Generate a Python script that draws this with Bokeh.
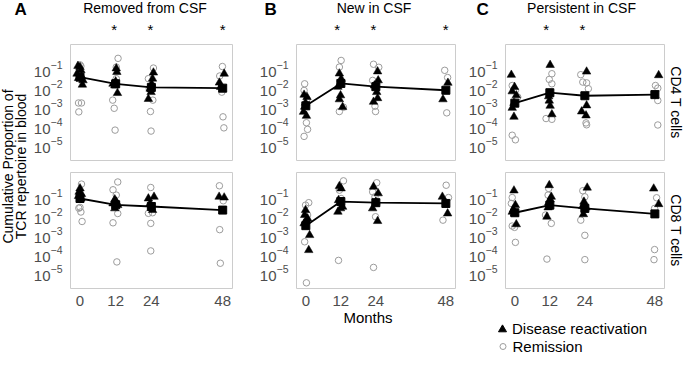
import math
from bokeh.plotting import figure
from bokeh.models import Range1d, FixedTicker, LogTickFormatter, Label, Legend, LegendItem
from bokeh.layouts import row, column
from bokeh.embed import file_html
from bokeh.resources import INLINE

# ---------------- data (y stored as log10) ----------------
months = [0, 12, 24, 48]
x_ticks = [0, 12, 24, 48]
y_ticks = [1e-5, 1e-4, 1e-3, 1e-2, 1e-1]
panel_letters = ["A", "B", "C"]
panel_titles = ["Removed from CSF", "New in CSF", "Persistent in CSF"]
row_labels = ["CD4 T cells", "CD8 T cells"]
star_months_A = [12, 24, 48]
star_months_B = [12, 24, 48]
star_months_C = [12, 24]
x_label = "Months"
y_label_lines = ["Cumulative Proportion of", "TCR repertoire in blood"]
legend_labels = ["Disease reactivation", "Remission"]

# Panel A, CD4
A4_rem_x = [0.0, 0.3, -0.5, 0.5, -0.4, 0.7, 12.8, 12.2, 11.0, 11.5, 11.8, 12.2, 24.7, 23.0, 24.5, 23.7, 23.9, 23.3, 47.9, 47.0, 47.7, 48.1, 48.4]
A4_rem_y = [-0.79, -0.86, -2.80, -2.80, -3.27, -1.53, -0.45, -0.91, -2.65, -3.08, -4.23, -1.52, -0.96, -1.52, -2.65, -3.25, -4.28, -2.05, -0.88, -1.38, -2.23, -3.53, -4.11]
A4_react_x = [-0.7, 0.0, 0.3, -1.0, 0.5, 1.0, 0.8, -0.5, 12.2, 12.4, 12.0, 11.1, 11.7, 12.6, 24.7, 24.4, 24.1, 23.6, 23.0, 23.9, 48.5, 46.9, 47.3]
A4_react_y = [-0.85, -0.91, -1.08, -1.26, -1.39, -1.61, -1.84, -1.49, -0.98, -1.17, -1.67, -1.79, -1.88, -2.28, -1.20, -1.52, -1.79, -2.05, -2.59, -2.23, -1.26, -1.73, -1.96]
A4_median = [-1.44, -1.79, -1.98, -2.02]

# Panel A, CD8
A8_rem_x = [0.5, -0.4, 0.0, 0.3, 0.7, 12.7, 11.1, 12.2, 12.7, 11.1, 12.4, 23.8, 23.0, 24.4, 23.8, 23.8, 46.9, 48.2, 47.0, 47.2]
A8_rem_y = [-0.33, -1.60, -1.56, -1.80, -2.30, -0.22, -0.63, -0.91, -1.88, -2.37, -4.43, -0.51, -1.87, -1.84, -2.40, -3.85, -0.42, -1.21, -2.73, -4.50]
A8_react_x = [0.0, -0.3, 0.5, 0.3, -0.5, 11.7, 12.2, 11.1, 12.7, 11.7, 23.0, 24.9, 23.6, 24.4, 46.8, 48.5]
A8_react_y = [-0.56, -0.74, -0.86, -1.09, -0.96, -1.14, -1.26, -1.35, -1.44, -1.61, -1.09, -1.00, -1.35, -1.70, -1.00, -1.04]
A8_median = [-1.09, -1.42, -1.51, -1.70]

# Panel B, CD4
B4_rem_x = [-0.4, -0.6, 0.4, 0.2, 0.6, -0.6, 12.1, 11.5, 11.5, 12.9, 23.2, 25.0, 22.9, 23.7, 23.9, 47.6, 48.6, 48.3]
B4_rem_y = [-1.79, -2.14, -2.60, -3.84, -4.19, -4.56, -0.56, -0.91, -3.25, -3.02, -0.76, -0.92, -1.61, -2.97, -3.25, -1.08, -1.46, -3.32]
B4_react_x = [-0.6, 0.4, -0.1, -0.8, 0.2, -0.4, 11.5, 12.1, 11.0, 11.9, 12.6, 11.5, 24.6, 24.8, 23.5, 24.3, 24.6, 23.2, 48.7, 47.0]
B4_react_y = [-2.37, -2.49, -2.79, -3.27, -3.48, -3.00, -1.25, -1.53, -1.95, -2.40, -3.02, -2.61, -1.14, -1.61, -1.88, -2.23, -2.55, -2.74, -1.74, -2.61]
B4_median = [-2.95, -1.77, -1.94, -2.13]

# Panel B, CD8
B8_rem_x = [-0.1, 1.0, 0.6, -0.4, 0.2, 12.9, 11.5, 12.1, 11.2, 24.3, 22.9, 23.7, 23.9, 23.2, 48.1, 48.9, 47.0]
B8_rem_y = [-1.44, -1.31, -1.96, -3.37, -5.53, -0.16, -0.65, -1.09, -4.35, -0.26, -0.74, -1.00, -2.05, -4.72, -0.39, -1.04, -2.23]
B8_react_x = [-0.1, -0.4, 0.2, -0.6, 0.6, 1.3, 1.0, 11.5, 12.1, 11.2, 11.9, 11.0, 12.6, 23.2, 24.8, 24.0, 22.9, 24.6, 46.8, 48.6]
B8_react_y = [-1.70, -1.96, -2.23, -2.40, -2.14, -3.02, -3.81, -0.44, -0.56, -1.18, -1.61, -1.79, -1.53, -0.47, -0.82, -1.26, -1.61, -2.28, -1.00, -1.88]
B8_median = [-2.52, -1.25, -1.31, -1.35]

# Panel C, CD4
C4_rem_x = [-0.9, 0.2, 1.0, -0.9, 0.2, 12.7, 11.8, 12.7, 10.7, 12.7, 22.6, 24.6, 23.3, 25.2, 24.4, 24.6, 48.2, 49.0, 49.0, 49.0]
C4_rem_y = [-1.88, -2.14, -2.49, -4.50, -4.74, -1.26, -1.56, -1.79, -3.62, -3.66, -1.31, -1.74, -1.70, -2.05, -3.85, -3.95, -1.88, -2.02, -2.67, -3.96]
C4_react_x = [-1.2, -0.1, -0.9, 0.5, -0.3, -0.9, -0.3, 12.1, 11.6, 11.8, 12.1, 12.7, 24.6, 24.6, 22.9, 24.4, 49.3]
C4_react_y = [-1.32, -1.96, -2.19, -2.40, -2.80, -3.06, -3.53, -0.80, -2.45, -2.68, -2.95, -3.40, -1.15, -2.93, -3.25, -3.46, -1.34]
C4_median = [-2.81, -2.26, -2.42, -2.36]

# Panel C, CD8
C8_rem_x = [-0.9, -1.2, -0.9, -0.1, 0.2, 11.6, 11.4, 10.5, 12.5, 11.0, 23.3, 24.0, 22.6, 24.0, 24.0, 48.6, 47.9, 47.9, 47.7]
C8_rem_y = [-1.04, -1.35, -2.54, -2.61, -3.40, -0.56, -0.91, -1.96, -2.40, -4.28, -0.68, -1.00, -2.23, -3.03, -4.31, -1.05, -1.61, -3.78, -4.31]
C8_react_x = [-0.3, 0.2, -0.5, -0.1, 0.5, -0.9, 11.8, 12.5, 11.6, 11.4, 11.0, 12.1, 24.8, 23.7, 24.4, 23.5, 23.3, 47.6, 49.3]
C8_react_y = [-0.67, -1.44, -1.67, -1.88, -2.45, -1.79, -0.39, -1.00, -1.31, -1.56, -2.05, -1.14, -0.52, -1.26, -1.56, -1.92, -1.49, -0.57, -1.39]
C8_median = [-1.84, -1.44, -1.61, -1.90]

# ---------------- styling / layout ----------------
FONT = "Liberation Sans"
TICK_COLOR = "#4D4D4D"
REM_COLOR = "#9C9C9C"
X_RANGE = (-3.2, 51.3)
Y_LOG_RANGE = (-5.83, 0.28)
FRAME_W = 164
FRAME_H = 116

LEFT_W = 30
col_specs = [(226, 38, 24), (209, 35, 10), (201, 35, 2)]   # fig width, left border, right border
STRIP_W = 18
HEAD_H = 44
TOP_H, TOP_T, TOP_B = 122, 0, 6
BOT_H, BOT_T, BOT_B = 142, 6, 20
FOOT_H = 47

panels = {
    (0, 0): (A4_rem_x, A4_rem_y, A4_react_x, A4_react_y, A4_median),
    (0, 1): (A8_rem_x, A8_rem_y, A8_react_x, A8_react_y, A8_median),
    (1, 0): (B4_rem_x, B4_rem_y, B4_react_x, B4_react_y, B4_median),
    (1, 1): (B8_rem_x, B8_rem_y, B8_react_x, B8_react_y, B8_median),
    (2, 0): (C4_rem_x, C4_rem_y, C4_react_x, C4_react_y, C4_median),
    (2, 1): (C8_rem_x, C8_rem_y, C8_react_x, C8_react_y, C8_median),
}
stars = [star_months_A, star_months_B, star_months_C]
letter_x = [None, 8, 11]
title_x = [114.5, 117.5, 116]


def pow10(vals):
    return [10 ** v for v in vals]


def blank(width, height, x_range=(0, 1)):
    f = figure(width=width, height=height, output_backend="svg", toolbar_location=None,
               x_axis_location=None, y_axis_location=None, min_border=0,
               x_range=Range1d(*x_range), y_range=Range1d(0, 1))
    f.outline_line_color = None
    f.grid.visible = False
    f.background_fill_color = "white"
    f.border_fill_color = "white"
    return f


def txt(text, x, y, size="15px", align="center", baseline="middle", angle=0.0,
        x_units="canvas", bold=False):
    return Label(x=x, y=y, x_units=x_units, y_units="canvas", text=text, angle=angle,
                 text_align=align, text_baseline=baseline, text_font=FONT,
                 text_font_size=size, text_color="black",
                 text_font_style="bold" if bold else "normal")


def make_panel(ci, ri):
    w, bl, br = col_specs[ci]
    top = ri == 0
    h, bt, bb = (TOP_H, TOP_T, TOP_B) if top else (BOT_H, BOT_T, BOT_B)
    p = figure(width=w, height=h, output_backend="svg", toolbar_location=None,
               y_axis_type="log", x_axis_location=None if top else "below",
               x_range=Range1d(*X_RANGE),
               y_range=Range1d(10 ** Y_LOG_RANGE[0], 10 ** Y_LOG_RANGE[1]),
               min_border_left=bl, min_border_right=br, min_border_top=bt, min_border_bottom=bb)
    p.grid.visible = False
    p.outline_line_color = "#CCCCCC"
    p.outline_line_width = 1
    p.background_fill_color = "white"
    p.border_fill_color = "white"

    ya = p.yaxis[0]
    ya.ticker = FixedTicker(ticks=y_ticks)
    ya.formatter = LogTickFormatter()
    ya.axis_line_color = None
    ya.major_tick_line_color = None
    ya.minor_tick_line_color = None
    ya.major_label_text_font = FONT
    ya.major_label_text_font_size = "15px"
    ya.major_label_text_color = TICK_COLOR
    ya.major_label_standoff = 2
    if not top:
        xa = p.xaxis[0]
        xa.ticker = FixedTicker(ticks=x_ticks)
        xa.axis_line_color = None
        xa.major_tick_line_color = None
        xa.minor_tick_line_color = None
        xa.major_label_text_font = FONT
        xa.major_label_text_font_size = "15px"
        xa.major_label_text_color = TICK_COLOR
        xa.major_label_standoff = 1

    rem_x, rem_y, react_x, react_y, med = panels[(ci, ri)]
    p.scatter(rem_x, pow10(rem_y), marker="circle", size=6.5, fill_color=None,
              line_color=REM_COLOR, line_width=1)
    p.scatter(react_x, pow10(react_y), marker="triangle", size=8.5, fill_color="black",
              line_color="black", line_width=0.5)
    p.line(months, pow10(med), line_color="black", line_width=1.8)
    p.scatter(months, pow10(med), marker="square", size=8, fill_color="black",
              line_color="black")
    return p


def make_header(ci):
    w, bl, br = col_specs[ci]
    hw = w + (STRIP_W if ci == 2 else 0)
    s = (X_RANGE[1] - X_RANGE[0]) / FRAME_W
    x0 = X_RANGE[0] - bl * s
    hd = blank(hw, HEAD_H, x_range=(x0, x0 + hw * s))
    hd.add_layout(txt(panel_titles[ci], title_x[ci], 7, size="14px"))
    if letter_x[ci] is not None:
        hd.add_layout(txt(panel_letters[ci], letter_x[ci], 9, size="17px", align="left", bold=True))
    for m in stars[ci]:
        hd.add_layout(txt("*", m, 28.5, x_units="data"))
    return hd


headers = [make_header(c) for c in range(3)]
tops = [make_panel(c, 0) for c in range(3)]
bots = [make_panel(c, 1) for c in range(3)]

# y label strip (left) with panel letter A
ylab = blank(LEFT_W, HEAD_H + TOP_H + BOT_H + FOOT_H)
for i, line in enumerate(y_label_lines):
    ylab.add_layout(txt(line, 7 + 13 * i, 166, size="14px", angle=math.pi / 2))
ylab.add_layout(txt(panel_letters[0], 14, 9, size="17px", align="left", bold=True))

# facet strip (right)
strip = blank(STRIP_W, TOP_H + BOT_H)
strip.add_layout(txt(row_labels[0], STRIP_W / 2, TOP_T + FRAME_H / 2, size="14px", angle=-math.pi / 2))
strip.add_layout(txt(row_labels[1], STRIP_W / 2, TOP_H + BOT_T + FRAME_H / 2, size="14px", angle=-math.pi / 2))

# footer: x label and legend
FOOT_W = sum(c[0] for c in col_specs) + STRIP_W
footer = blank(FOOT_W, FOOT_H)
footer.add_layout(txt(x_label, 337.5, 8.5))
nan = float("nan")
r_react = footer.scatter([nan], [nan], marker="triangle", size=8, fill_color="black", line_color="black")
r_rem = footer.scatter([nan], [nan], marker="circle", size=6, fill_color=None, line_color=REM_COLOR,
                       line_width=1)
leg_style = dict(orientation="vertical", label_height=20, padding=0, margin=0, spacing=0,
                 border_line_color=None, background_fill_alpha=0,
                 label_text_font=FONT, label_text_font_size="15px", label_text_color="black")
leg1 = Legend(items=[LegendItem(label=legend_labels[0], renderers=[r_react])],
              location=(462, 16.5), glyph_width=20, glyph_height=20, label_standoff=0, **leg_style)
leg2 = Legend(items=[LegendItem(label=legend_labels[1], renderers=[r_rem])],
              location=(464.5, -1), glyph_width=15, glyph_height=20, label_standoff=3, **leg_style)
footer.add_layout(leg1)
footer.add_layout(leg2)

layout = row(ylab,
             column(row(*headers),
                    row(column(row(*tops), row(*bots)), strip),
                    footer))

open("out.html", "w").write(file_html(layout, INLINE))
